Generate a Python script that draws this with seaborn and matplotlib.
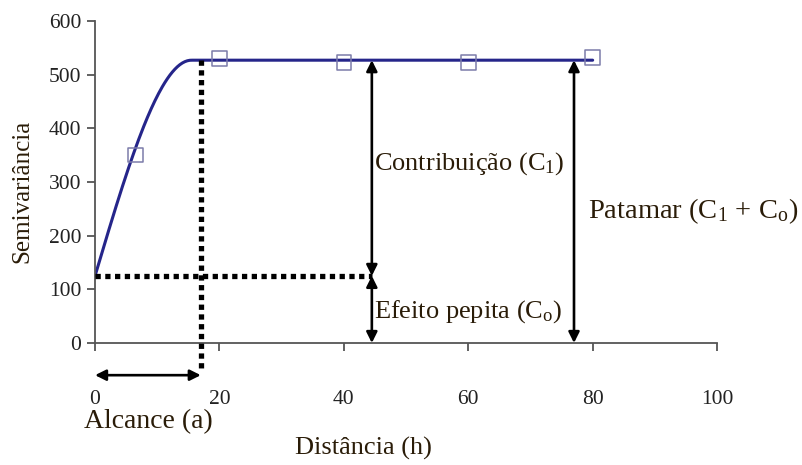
import numpy as np
import pandas as pd
import matplotlib
matplotlib.use("Agg")
import matplotlib.pyplot as plt
import seaborn as sns

# Experimental semivariogram points
lag_h = [6.5, 20, 40, 60, 80]
gamma_obs = [350, 530, 523, 523, 532]

# Spherical model parameters
nugget = 125          # C0
sill = 527            # C0 + C1
model_range = 15.5    # range of the fitted curve
range_mark = 17       # range (a) as marked on the diagram
h_max = 80

x_ticks = [0, 20, 40, 60, 80, 100]
y_ticks = [0, 100, 200, 300, 400, 500, 600]

sns.set_theme(style="white")
plt.rcParams["font.family"] = ["Liberation Serif", "DejaVu Serif"]
plt.rcParams["mathtext.fontset"] = "custom"
plt.rcParams["mathtext.rm"] = "Liberation Serif"

h = np.linspace(0, h_max, 400)
r = np.clip(h / model_range, 0, 1)
gamma_model = nugget + (sill - nugget) * (1.5 * r - 0.5 * r ** 3)
model_df = pd.DataFrame({"h": h, "gamma": gamma_model})
obs_df = pd.DataFrame({"h": lag_h, "gamma": gamma_obs})

fig = plt.figure(figsize=(8.02, 4.65), dpi=100)
ax = fig.add_axes([0.1185, 0.2624, 0.7756, 0.6924])

sns.lineplot(data=model_df, x="h", y="gamma", ax=ax, color="#25258a", lw=2.2)
sns.scatterplot(data=obs_df, x="h", y="gamma", ax=ax, marker="s", s=110,
                facecolor="none", edgecolor="#7c7caa", linewidth=1.1, zorder=5)

ax.set_xlim(0, 100)
ax.set_ylim(0, 600)
ax.set_xticks(x_ticks)
ax.set_yticks(y_ticks)
ax.tick_params(axis="x", bottom=True, direction="out", length=6, width=1.3,
               color="#555555", pad=28, labelsize=15.5, labelcolor="#222222")
ax.tick_params(axis="y", left=True, direction="out", length=6, width=1.3,
               color="#555555", pad=4, labelsize=15.5, labelcolor="#222222")
for side in ("top", "right"):
    ax.spines[side].set_visible(False)
for side in ("left", "bottom"):
    ax.spines[side].set_color("#555555")
    ax.spines[side].set_linewidth(1.3)
ax.set_xlabel("")
ax.set_ylabel("")

dot = dict(color="black", lw=3.8, linestyle=(0, (1.0, 0.85)), clip_on=False, zorder=4)
arrow_x1 = 44.5
arrow_x2 = 77
# Nugget level and range guides
ax.plot([0, arrow_x1], [nugget, nugget], **dot)
ax.plot([range_mark, range_mark], [sill, -52], **dot)

arrow = dict(arrowstyle="<|-|>", color="black", lw=1.9, mutation_scale=16,
             shrinkA=0, shrinkB=0)
ax.annotate("", xy=(arrow_x1, sill), xytext=(arrow_x1, nugget), arrowprops=arrow)
ax.annotate("", xy=(arrow_x1, nugget), xytext=(arrow_x1, 0), arrowprops=arrow)
ax.annotate("", xy=(arrow_x2, sill), xytext=(arrow_x2, 0), arrowprops=arrow)
ax.annotate("", xy=(0, -60), xytext=(range_mark, -60), arrowprops=arrow,
            annotation_clip=False)

txt = dict(color="#2a1c08", va="center", ha="left")
ax.text(44.9, 335, r"Contribuição (C$\mathregular{_1}$)", fontsize=19, **txt)
ax.text(44.9, 58, r"Efeito pepita (C$\mathregular{_o}$)", fontsize=19, **txt)
ax.text(79.3, 246, r"Patamar (C$\mathregular{_1}$ + C$\mathregular{_o}$)",
        fontsize=20.5, clip_on=False, **txt)

fig.text(22 / 802, 1 - 191 / 465, "Semivariância", fontsize=18, rotation=90,
         ha="center", va="center", color="#2a1c08")
fig.text(148 / 802, 1 - 422 / 465, "Alcance (a)", fontsize=20,
         ha="center", va="center", color="#2a1c08")
fig.text(363 / 802, 1 - 448 / 465, "Distância (h)", fontsize=19,
         ha="center", va="center", color="#2a1c08")

fig.savefig("out.png", dpi=100)
